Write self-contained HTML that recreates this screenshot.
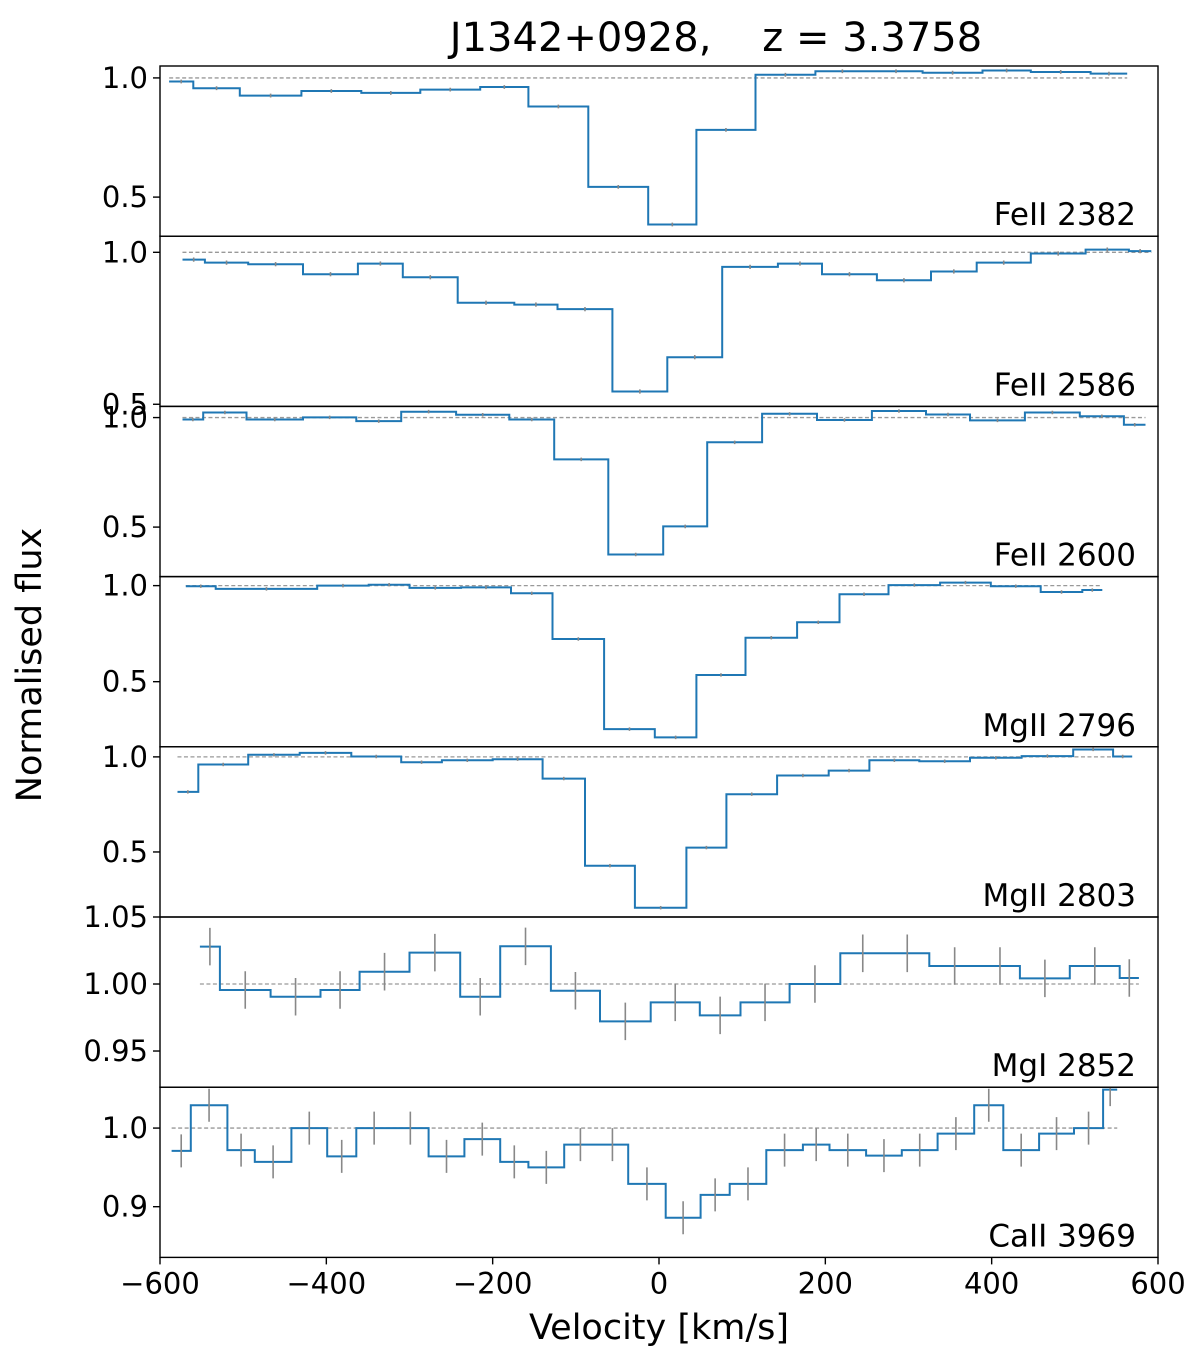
<!DOCTYPE html>
<html><head><meta charset="utf-8"><style>
html,body{margin:0;padding:0;background:#fff}
svg{display:block;font-family:"DejaVu Sans","Liberation Sans",sans-serif}
</style></head><body>
<svg id="chart" width="1200" height="1365" viewBox="0 0 1200 1365" xmlns="http://www.w3.org/2000/svg">
<text x="716" y="51" font-size="40" text-anchor="middle" xml:space="preserve">J1342+0928,    z = 3.3758</text>
<text x="659" y="1339" font-size="35" text-anchor="middle">Velocity [km/s]</text>
<text x="0" y="0" font-size="35" text-anchor="middle" transform="translate(41,665) rotate(-90)">Normalised flux</text>
</svg>
<script>
const xTicks = [-600, -400, -200, 0, 200, 400, 600];
const xTickLabels = ['\u2212600', '\u2212400', '\u2212200', '0', '200', '400', '600'];
const panelNames = ['FeII 2382', 'FeII 2586', 'FeII 2600', 'MgII 2796', 'MgII 2803', 'MgI 2852', 'CaII 3969'];
const yMins = [0.336, 0.493, 0.274, 0.161, 0.158, 0.923, 0.8355];
const yMaxs = [1.05, 1.053, 1.051, 1.047, 1.053, 1.05, 1.052];
const yTickVals = [[1.0, 0.5], [1.0, 0.5], [1.0, 0.5], [1.0, 0.5], [1.0, 0.5], [1.05, 1.00, 0.95], [1.0, 0.9]];
const yTickLabels = [['1.0', '0.5'], ['1.0', '0.5'], ['1.0', '0.5'], ['1.0', '0.5'], ['1.0', '0.5'], ['1.05', '1.00', '0.95'], ['1.0', '0.9']];
const errs = [0.008, 0.007, 0.008, 0.009, 0.009, 0.014, 0.021];

const edges1 = [-589, -560, -504, -430, -358, -287, -215, -157, -85, -13, 45, 116, 188, 253, 317, 389, 447, 519, 563];
const flux1 = [0.985, 0.957, 0.926, 0.945, 0.937, 0.951, 0.962, 0.880, 0.543, 0.385, 0.782, 1.013, 1.028, 1.028, 1.022, 1.031, 1.025, 1.018];
const edges2 = [-573, -546, -494, -428, -362, -308, -242, -174, -122, -56, 10, 76, 143, 196, 262, 327, 382, 447, 513, 565, 592];
const flux2 = [0.976, 0.966, 0.961, 0.928, 0.963, 0.918, 0.834, 0.828, 0.813, 0.542, 0.655, 0.952, 0.963, 0.928, 0.908, 0.937, 0.966, 0.996, 1.009, 1.004];
const edges3 = [-573, -548, -496, -428, -364, -310, -244, -180, -126, -61, 5, 58, 124, 190, 256, 321, 374, 440, 506, 559, 585];
const flux3 = [0.991, 1.023, 0.991, 1.001, 0.984, 1.027, 1.013, 0.991, 0.809, 0.375, 0.503, 0.887, 1.017, 0.989, 1.030, 1.014, 0.987, 1.023, 1.006, 0.967];
const edges4 = [-569, -533, -411, -349, -300, -238, -178, -128, -66, -5, 45, 104, 166, 217, 276, 338, 399, 459, 509, 533];
const flux4 = [0.997, 0.983, 1.0, 1.005, 0.988, 0.991, 0.960, 0.722, 0.253, 0.210, 0.535, 0.729, 0.809, 0.955, 1.003, 1.016, 0.997, 0.967, 0.977];
const edges5 = [-579, -554, -494, -432, -370, -310, -261, -200, -140, -89, -29, 33, 81, 142, 204, 253, 313, 374, 436, 498, 546, 569];
const flux5 = [0.816, 0.960, 1.011, 1.021, 1.002, 0.972, 0.982, 0.988, 0.886, 0.428, 0.207, 0.523, 0.804, 0.902, 0.928, 0.982, 0.977, 0.995, 1.004, 1.039, 1.002];
const edges6 = [-552, -528, -467, -407, -360, -300, -239, -191, -130, -71, -10, 49, 98, 157, 218, 272, 325, 386, 434, 494, 554, 577];
const flux6 = [1.0279, 0.9955, 0.9905, 0.9955, 1.0092, 1.0234, 0.9905, 1.0281, 0.995, 0.9721, 0.9863, 0.9766, 0.9863, 1.0, 1.0229, 1.0229, 1.0134, 1.0134, 1.0042, 1.0134, 1.0045];
const edges7 = [-586, -563, -519, -486, -442, -399, -364, -321, -277, -234, -191, -157, -114, -75, -37, 8, 50, 85, 129, 173, 205, 249, 292, 335, 379, 414, 457, 499, 534, 551];
const flux7 = [0.971, 1.029, 0.972, 0.957, 1.0, 0.964, 1.0, 1.0, 0.964, 0.986, 0.957, 0.950, 0.979, 0.979, 0.929, 0.886, 0.915, 0.929, 0.972, 0.979, 0.972, 0.965, 0.972, 0.993, 1.029, 0.972, 0.993, 1.0, 1.049];

const allEdges = [edges1, edges2, edges3, edges4, edges5, edges6, edges7];
const allFlux = [flux1, flux2, flux3, flux4, flux5, flux6, flux7];

const NS = 'http://www.w3.org/2000/svg';
const svg = document.getElementById('chart');
const X0 = 160, X1 = 1158, VMIN = -600, VMAX = 600;
const PTOP = 66, PH = 170.2;
function xs(v) { return X0 + (v - VMIN) / (VMAX - VMIN) * (X1 - X0); }
function mk(tag, attrs) { const e = document.createElementNS(NS, tag); for (const k in attrs) e.setAttribute(k, attrs[k]); return e; }

for (let p = 0; p < 7; p++) {
  const top = PTOP + p * PH, bot = top + PH;
  const ys = f => bot - (f - yMins[p]) / (yMaxs[p] - yMins[p]) * PH;
  const g = mk('g', {});
  
  
  svg.appendChild(g);
  const clipId = 'clip' + p;
  const cp = mk('clipPath', { id: clipId });
  cp.appendChild(mk('rect', { x: X0, y: top, width: X1 - X0, height: PH }));
  g.appendChild(cp);
  const ed = allEdges[p], fl = allFlux[p];
  const cont = mk('line', { x1: xs(ed[0]), x2: xs(ed[ed.length - 1]), y1: ys(1), y2: ys(1), stroke: '#999', 'stroke-width': 1.3, 'stroke-dasharray': '4,2.5' });
  
  
  g.appendChild(cont);
  let d = '';
  for (let i = 0; i < fl.length; i++) {
    d += (i === 0 ? 'M' : 'L') + xs(ed[i]).toFixed(1) + ',' + ys(fl[i]).toFixed(1) + 'L' + xs(ed[i + 1]).toFixed(1) + ',' + ys(fl[i]).toFixed(1);
  }
  const path = mk('path', { d: d, fill: 'none', stroke: '#1f77b4', 'stroke-width': 2, 'clip-path': 'url(#' + clipId + ')' });
  
  
  g.appendChild(path);
  for (let i = 0; i < fl.length; i++) {
    const c = (ed[i] + ed[i + 1]) / 2;
    const eb = mk('line', { x1: xs(c), x2: xs(c), y1: ys(fl[i] - errs[p]), y2: ys(fl[i] + errs[p]), stroke: '#888', 'stroke-width': 1.6, 'clip-path': 'url(#' + clipId + ')' });
    
    
    g.appendChild(eb);
  }
  const fr = mk('rect', { x: X0, y: top, width: X1 - X0, height: PH, fill: 'none', stroke: '#000', 'stroke-width': 1.4 });
  
  
  g.appendChild(fr);
  for (let k = 0; k < yTickVals[p].length; k++) {
    const y = ys(yTickVals[p][k]);
    const t = mk('line', { x1: X0 - 7, x2: X0, y1: y, y2: y, stroke: '#000', 'stroke-width': 1.4 });
    
    
    g.appendChild(t);
    const tl = mk('text', { x: X0 - 12, y: y + 10, 'font-size': 29, 'text-anchor': 'end' });
    tl.textContent = yTickLabels[p][k];
    
    
    g.appendChild(tl);
  }
  const lab = mk('text', { x: 1136, y: bot - 11, 'font-size': 31, 'text-anchor': 'end' });
  lab.textContent = panelNames[p];
  
  
  g.appendChild(lab);
}
const bottom = PTOP + 7 * PH;
for (let i = 0; i < xTicks.length; i++) {
  const x = xs(xTicks[i]);
  const t = mk('line', { x1: x, x2: x, y1: bottom, y2: bottom + 7, stroke: '#000', 'stroke-width': 1.4 });
  
  
  svg.appendChild(t);
  const tl = mk('text', { x: x, y: bottom + 36, 'font-size': 29, 'text-anchor': 'middle' });
  tl.textContent = xTickLabels[i];
  
  
  svg.appendChild(tl);
}
</script>
</body></html>
